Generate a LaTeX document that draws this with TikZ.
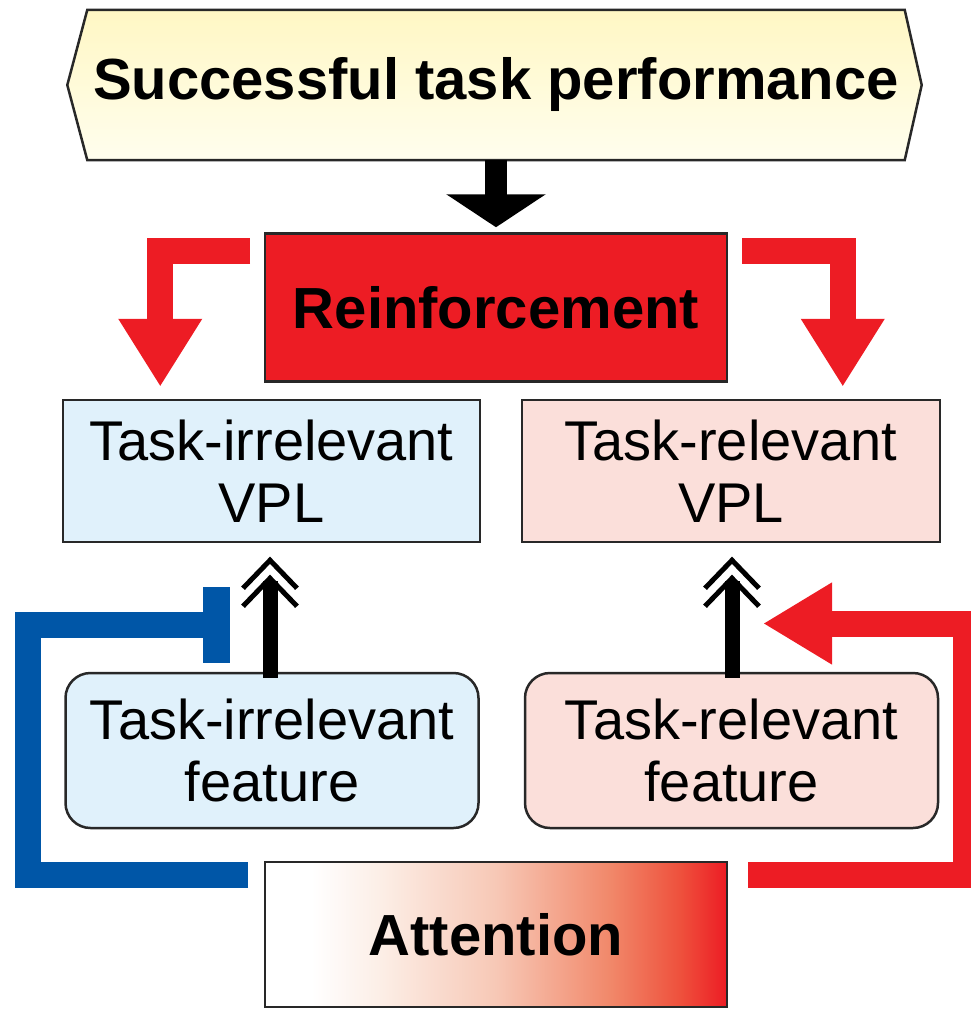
\documentclass[tikz,border=0pt]{standalone}
\usepackage{fontspec}
\setmainfont{Liberation Sans}
\usetikzlibrary{arrows.meta,backgrounds,calc}
\definecolor{myred}{RGB}{237,28,36}
\definecolor{myblue}{RGB}{0,86,167}
\definecolor{lblue}{RGB}{224,241,251}
\definecolor{lpink}{RGB}{251,223,218}
\definecolor{hextop}{RGB}{255,247,196}
\definecolor{hexbot}{RGB}{255,254,238}
\definecolor{bordergray}{RGB}{40,40,40}
\definecolor{attA}{RGB}{252,238,230}
\definecolor{attB}{RGB}{247,200,182}
\definecolor{attC}{RGB}{241,135,105}
\definecolor{attD}{RGB}{238,80,60}
\pgfdeclarehorizontalshading{attnshade}{100bp}{color(0bp)=(white); color(25bp)=(white); color(30bp)=(white); color(37.5bp)=(attA); color(50bp)=(attB); color(62.5bp)=(attC); color(70bp)=(attD); color(75bp)=(myred); color(100bp)=(myred)}
\tikzset{
  box/.style={draw=bordergray, line width=2.5pt, inner sep=0pt, align=center},
  regtext/.style={font=\fontsize{56}{62}\selectfont},
  boldtext/.style={font=\fontsize{58}{66}\selectfont\bfseries},
  redbar/.style={draw=myred, fill=none, line width=26pt, line join=miter, line cap=butt},
  bluebar/.style={draw=myblue, line width=26pt, line join=miter, line cap=butt},
  shaftline/.style={draw=black, line width=15pt, line cap=butt},
  chev/.style={draw=black, line width=5pt, line join=miter, line cap=butt},
}
\begin{document}
\begin{tikzpicture}[x=1pt,y=-1pt]
\useasboundingbox (0,0) rectangle (971,1009);

% nodes
\node[boldtext, inner sep=0pt, minimum width=817pt, minimum height=150pt] (top) at (496,85) {Successful task performance};
\begin{scope}[on background layer]
\draw[draw=bordergray, line width=2.5pt, line join=miter, top color=hextop, bottom color=hexbot]
  (top.north west) -- (top.north east) -- ([xshift=17pt]top.east) -- (top.south east)
  -- (top.south west) -- ([xshift=-20pt]top.west) -- cycle;
\end{scope}

\node[box, boldtext, fill=myred, minimum width=462pt, minimum height=148pt] (reinf) at (496,307.5) {Reinforcement};
\node[box, regtext, fill=lblue, minimum width=417pt, minimum height=142pt] (ivpl) at (271.5,471) {Task-irrelevant\\VPL};
\node[box, regtext, fill=lpink, minimum width=418pt, minimum height=142pt] (rvpl) at (731,471) {Task-relevant\\VPL};
\node[box, regtext, fill=lblue, rounded corners=25pt, minimum width=413pt, minimum height=155pt] (ifeat) at (272,750.5) {Task-irrelevant\\feature};
\node[box, regtext, fill=lpink, rounded corners=25pt, minimum width=413pt, minimum height=155pt] (rfeat) at (731.5,750.5) {Task-relevant\\feature};
\node[box, boldtext, shading=attnshade, minimum width=462pt, minimum height=145pt] (attn) at (496,934.5) {Attention};

% black arrow top -> reinforcement
\draw[line width=22pt, -{Triangle[length=33pt,width=98pt]}, shorten >=5pt] (top.south) -- (reinf.north);

% red bent arrows from reinforcement
\coordinate (rl0) at (250,251);
\coordinate (rr0) at (742,251);
\draw[redbar, -{Triangle[length=68pt,width=79pt]}, shorten >=12pt] (rl0) -| ($(ivpl.north west)+(98.5,0)$);
\draw[redbar, -{Triangle[length=68pt,width=79pt]}, shorten >=12pt] (rr0) -| ($(rvpl.north west)+(322,0)$);

% black double-chevron arrows feature -> VPL
\coordinate (lx) at (270,0);
\coordinate (rx) at (732,0);
\coordinate (la) at (ivpl.south -| lx);
\coordinate (ra) at (rvpl.south -| rx);
\draw[shaftline] ([yshift=-6pt]ifeat.north -| lx) -- ([shift={(0,38)}]la);
\draw[shaftline] ([yshift=-6pt]rfeat.north -| rx) -- ([shift={(0,38)}]ra);
\foreach \c in {la,ra}{
  \draw[chev] ([shift={(-27,45)}]\c) -- ([shift={(0,17)}]\c) -- ([shift={(27,45)}]\c);
  \draw[chev] ([shift={(-27,63)}]\c) -- ([shift={(0,35)}]\c) -- ([shift={(27,63)}]\c);
}

% blue inhibitory connector from attention
\coordinate (b0) at (248,874.5);
\coordinate (b1) at (230,624.5);
\draw[bluebar, -{Rectangle[length=27pt,width=76pt]}] (b0) -- (27.5,874.5) -- (27.5,624.5) -- (b1);

% red excitatory connector from attention
\coordinate (r0) at (748,874.5);
\coordinate (r1) at (763,623.5);
\draw[redbar, -{Triangle[length=69pt,width=77pt]}] (r0) -- (966,874.5) -- (966,623.5) -- (r1);
\end{tikzpicture}
\end{document}
